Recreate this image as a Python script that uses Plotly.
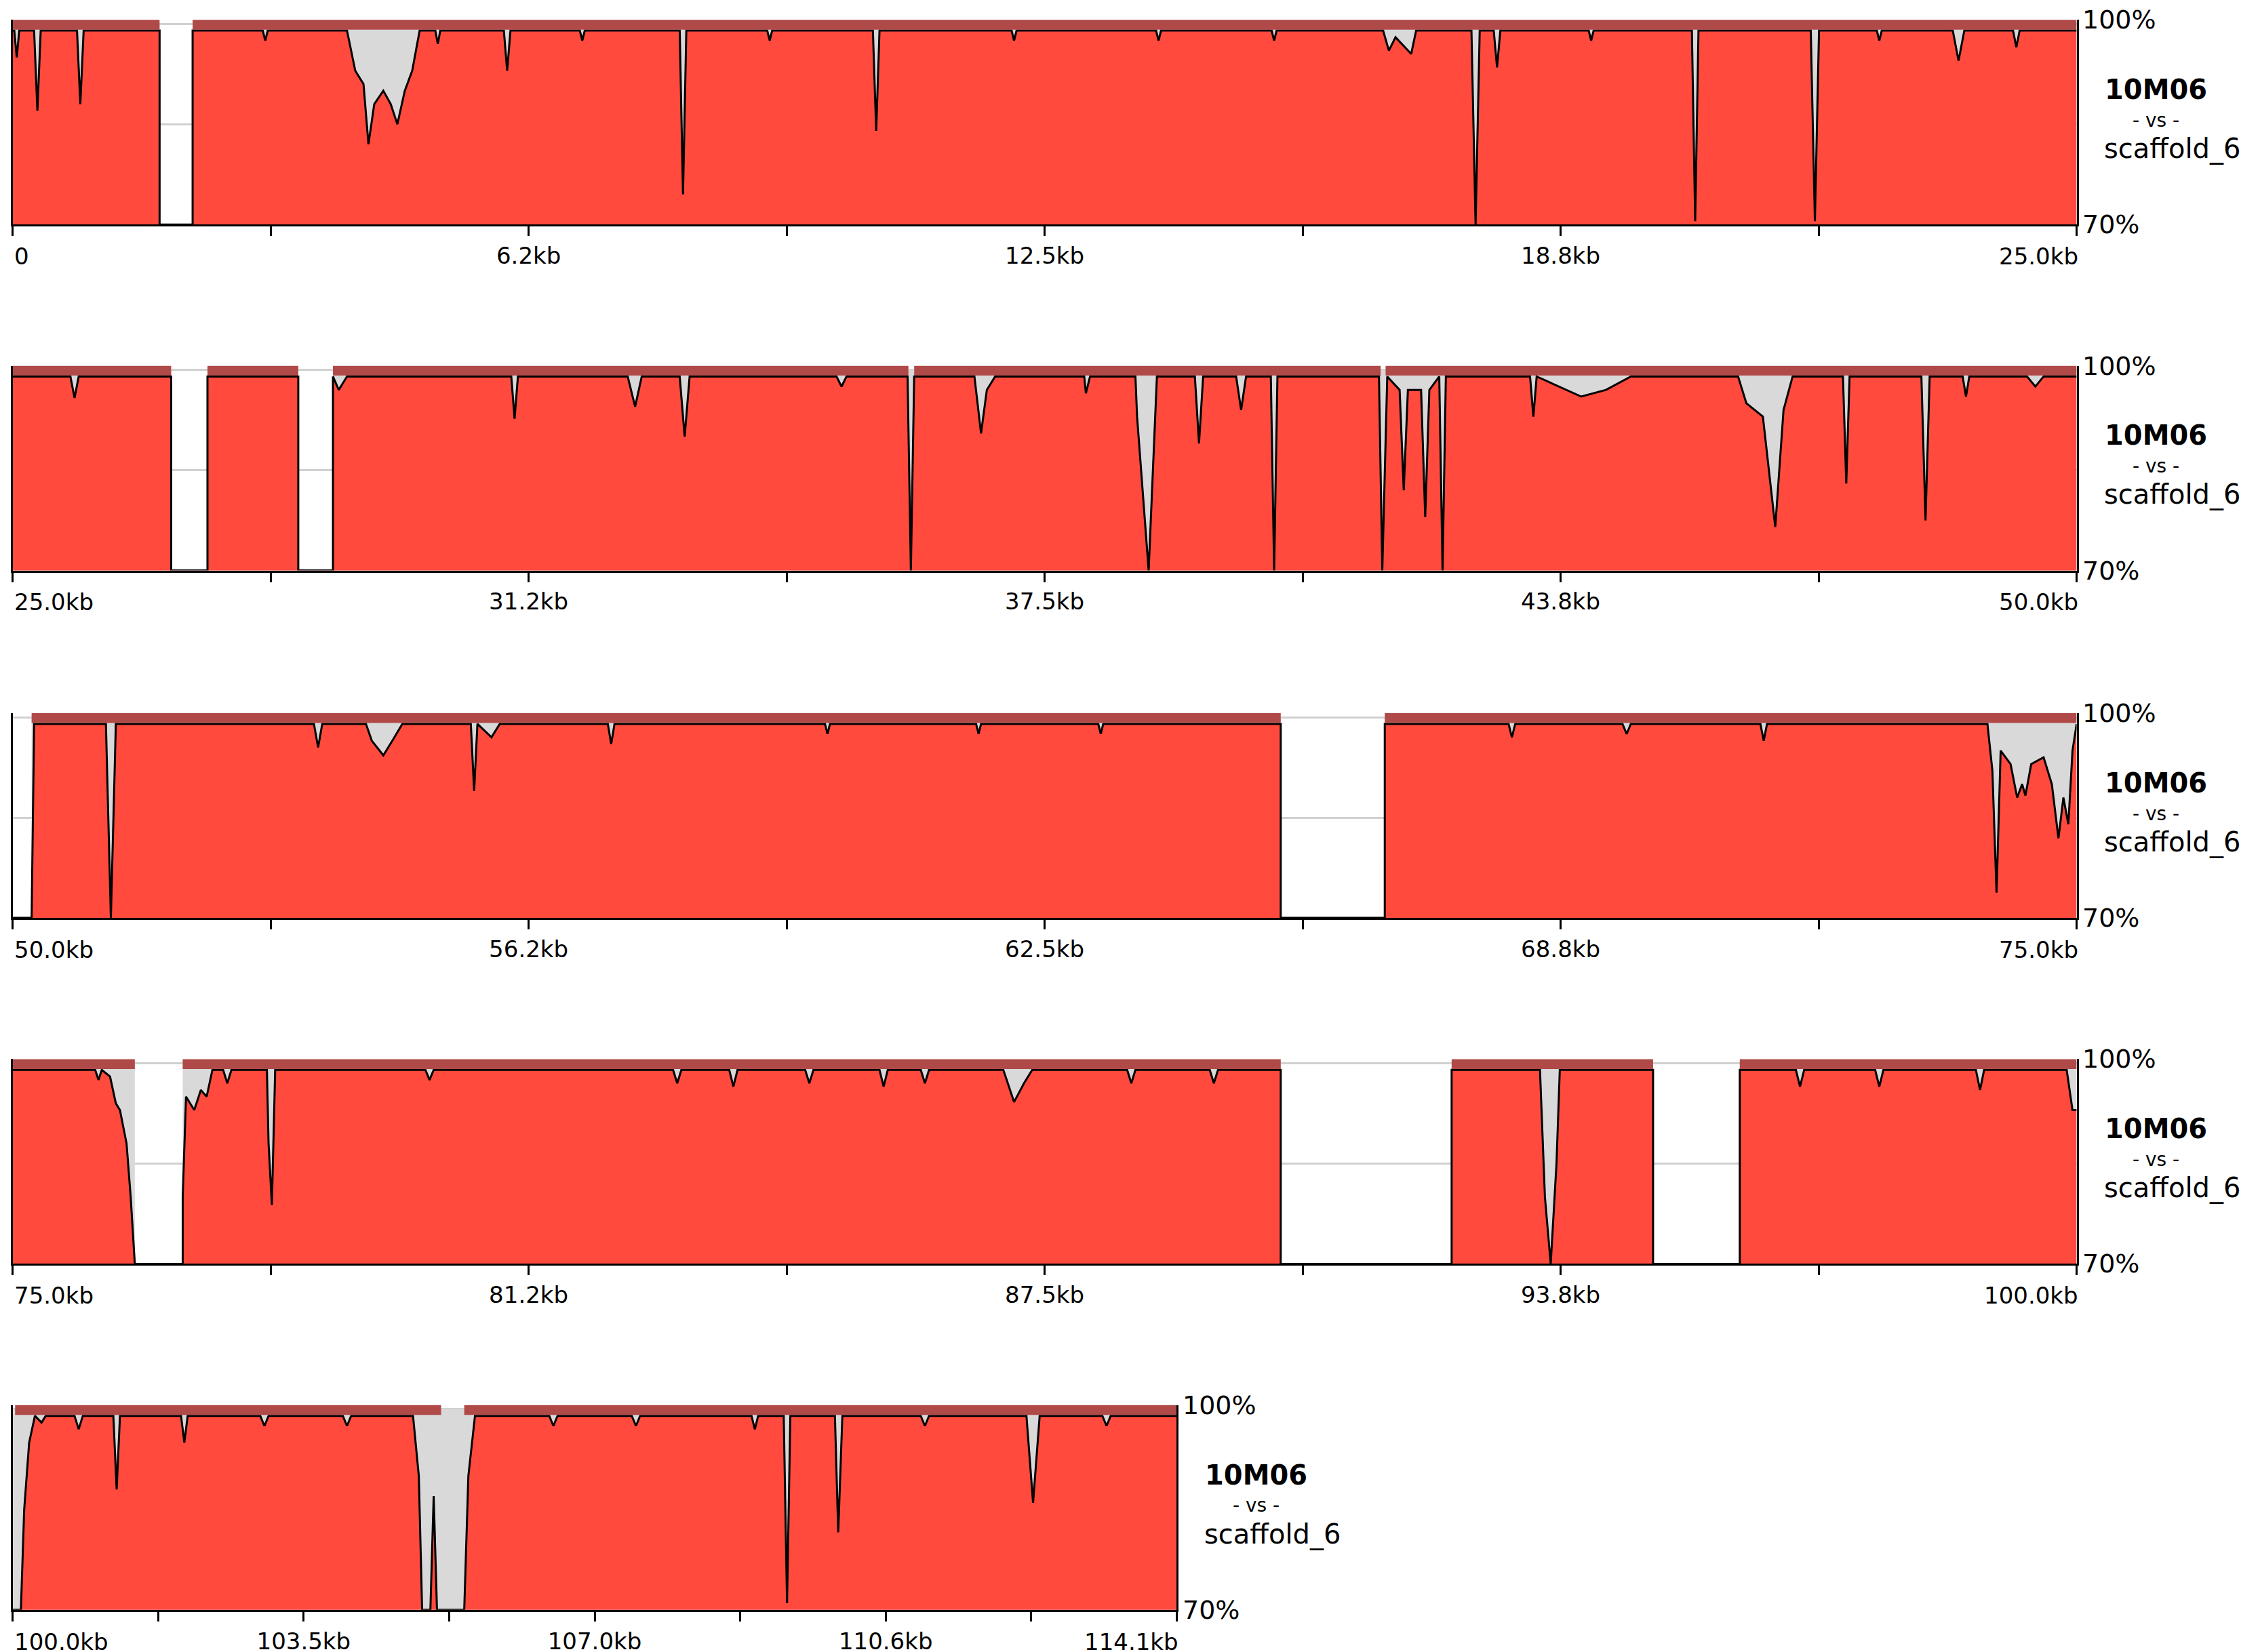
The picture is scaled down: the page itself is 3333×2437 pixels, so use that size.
import plotly.graph_objects as go

# ---------------- data ----------------
ROW_START = [0, 25, 50, 75, 100]
ROW_END = [25, 50, 75, 100, 114.1]

TICK_VALS = [
    [0, 6.25, 12.5, 18.75, 25],
    [25, 31.25, 37.5, 43.75, 50],
    [50, 56.25, 62.5, 68.75, 75],
    [75, 81.25, 87.5, 93.75, 100],
    [100, 103.525, 107.05, 110.575, 114.1],
]
TICK_TEXT = [
    ["0", "6.2kb", "12.5kb", "18.8kb", "25.0kb"],
    ["25.0kb", "31.2kb", "37.5kb", "43.8kb", "50.0kb"],
    ["50.0kb", "56.2kb", "62.5kb", "68.8kb", "75.0kb"],
    ["75.0kb", "81.2kb", "87.5kb", "93.8kb", "100.0kb"],
    ["100.0kb", "103.5kb", "107.0kb", "110.6kb", "114.1kb"],
]

# unaligned gaps (kb)
GAPS = [
    [(1.78, 2.18)],
    [(26.92, 27.36), (28.46, 28.88)],
    [(50.0, 50.23), (65.36, 66.62)],
    [(76.48, 77.06), (90.36, 92.43), (94.87, 95.92)],
    [],
]
# conserved-region bars along the top (kb)
CONSERVED = [
    [(0.0, 1.78), (2.18, 25.0)],
    [(25.0, 26.92), (27.36, 28.46), (28.88, 35.85), (35.92, 41.57), (41.63, 50.0)],
    [(50.23, 65.36), (66.62, 75.0)],
    [(75.0, 76.48), (77.06, 90.36), (92.43, 94.87), (95.92, 100.0)],
    [(100.03, 105.19), (105.47, 114.1)],
]

# conservation curve (kb, % identity)
CURVE = [
    [(0, 99), (0.02, 99), (0.05, 95), (0.08, 99), (0.26, 99), (0.30, 87), (0.34, 99), (0.78, 99), (0.82, 88),
     (0.86, 99), (1.78, 99), (1.78, 70), (2.18, 70), (2.18, 99), (3.03, 99), (3.06, 97.5), (3.09, 99),
     (4.05, 99), (4.15, 93), (4.25, 91), (4.31, 82), (4.38, 88), (4.49, 90), (4.58, 88), (4.66, 85),
     (4.75, 90), (4.84, 93), (4.93, 99), (5.12, 99), (5.15, 97), (5.18, 99), (5.95, 99), (5.99, 93),
     (6.03, 99), (6.87, 99), (6.9, 97.5), (6.93, 99), (8.08, 99), (8.12, 74.5), (8.16, 99), (9.14, 99),
     (9.17, 97.5), (9.2, 99), (10.42, 99), (10.46, 84), (10.5, 99), (12.1, 99), (12.13, 97.5), (12.16, 99),
     (13.85, 99), (13.88, 97.5), (13.91, 99), (15.25, 99), (15.28, 97.5), (15.31, 99), (16.6, 99),
     (16.67, 96), (16.75, 98), (16.94, 95.5), (17.0, 99), (17.67, 99), (17.72, 70), (17.77, 99),
     (17.94, 99), (17.98, 93.5), (18.02, 99), (19.09, 99), (19.12, 97.5), (19.15, 99), (20.34, 99),
     (20.38, 70.5), (20.42, 99), (21.78, 99), (21.83, 70.5), (21.88, 99), (22.58, 99), (22.61, 97.5),
     (22.64, 99), (23.5, 99), (23.57, 94.5), (23.64, 99), (24.23, 99), (24.27, 96.5), (24.31, 99), (25, 99)],
    [(25, 99), (25.7, 99), (25.75, 95.8), (25.8, 99), (26.92, 99), (26.92, 70), (27.36, 70), (27.36, 99),
     (28.46, 99), (28.46, 70), (28.88, 70), (28.88, 99), (28.95, 97), (29.05, 99), (31.04, 99),
     (31.08, 92.7), (31.12, 99), (32.45, 99), (32.54, 94.5), (32.62, 99), (33.08, 99), (33.14, 90),
     (33.2, 99), (34.98, 99), (35.04, 97.5), (35.1, 99), (35.84, 99), (35.88, 70), (35.92, 99),
     (36.65, 99), (36.73, 90.5), (36.8, 97), (36.9, 99), (37.98, 99), (38.0, 96.5), (38.05, 99),
     (38.6, 99), (38.62, 93), (38.76, 70), (38.86, 99), (39.32, 99), (39.37, 89), (39.42, 99),
     (39.82, 99), (39.88, 94), (39.94, 99), (40.24, 99), (40.28, 70), (40.32, 99), (41.55, 99),
     (41.59, 70), (41.65, 99), (41.8, 97), (41.85, 82), (41.9, 97), (42.06, 97), (42.11, 78),
     (42.16, 97), (42.28, 99), (42.32, 70), (42.36, 99), (43.38, 99), (43.42, 93), (43.46, 99),
     (44.0, 96), (44.3, 97), (44.6, 99), (45.9, 99), (46.0, 95), (46.2, 93), (46.35, 76.5), (46.45, 94),
     (46.56, 99), (47.17, 99), (47.21, 83), (47.25, 99), (48.12, 99), (48.17, 77.5), (48.22, 99),
     (48.62, 99), (48.66, 96), (48.7, 99), (49.4, 99), (49.5, 97.5), (49.6, 99), (50, 99)],
    [(50, 70), (50.23, 70), (50.26, 99), (51.13, 99), (51.19, 70), (51.25, 99), (53.65, 99), (53.7, 95.5),
     (53.75, 99), (54.28, 99), (54.35, 96.5), (54.49, 94.3), (54.6, 96.5), (54.72, 99), (55.55, 99),
     (55.59, 89), (55.63, 99), (55.8, 97), (55.9, 99), (57.21, 99), (57.25, 96), (57.29, 99), (59.84, 99),
     (59.87, 97.5), (59.9, 99), (61.67, 99), (61.7, 97.5), (61.73, 99), (63.15, 99), (63.18, 97.5),
     (63.21, 99), (65.36, 99), (65.36, 70), (66.62, 70), (66.62, 99), (68.12, 99), (68.16, 97),
     (68.2, 99), (69.5, 99), (69.55, 97.5), (69.6, 99), (71.17, 99), (71.21, 96.5), (71.25, 99),
     (73.92, 99), (73.98, 92), (74.03, 73.8), (74.08, 95), (74.2, 93), (74.28, 88), (74.34, 90),
     (74.38, 88.3), (74.45, 93), (74.6, 94), (74.7, 90), (74.78, 81.9), (74.84, 88), (74.9, 84),
     (74.95, 95), (75, 99)],
    [(75, 99), (76.0, 99), (76.04, 97.5), (76.08, 99), (76.18, 98), (76.25, 94), (76.3, 93), (76.38, 88),
     (76.43, 80), (76.48, 70), (77.06, 70), (77.06, 80), (77.1, 95), (77.2, 93), (77.28, 96), (77.35, 95),
     (77.42, 99), (77.55, 99), (77.6, 97), (77.65, 99), (78.08, 99), (78.1, 88), (78.14, 78.8),
     (78.18, 99), (80.0, 99), (80.05, 97.5), (80.1, 99), (83.0, 99), (83.05, 97), (83.1, 99), (83.68, 99),
     (83.73, 96.5), (83.78, 99), (84.6, 99), (84.65, 97), (84.7, 99), (85.5, 99), (85.55, 96.5),
     (85.6, 99), (86.0, 99), (86.05, 97), (86.1, 99), (87.0, 99), (87.13, 94.2), (87.25, 97), (87.35, 99),
     (88.5, 99), (88.55, 97), (88.6, 99), (89.5, 99), (89.55, 97), (89.6, 99), (90.36, 99), (90.36, 70),
     (92.43, 70), (92.43, 99), (93.5, 99), (93.56, 80), (93.63, 70), (93.7, 85), (93.74, 99),
     (94.87, 99), (94.87, 70), (95.92, 70), (95.92, 99), (96.6, 99), (96.65, 96.5), (96.7, 99),
     (97.56, 99), (97.61, 96.5), (97.66, 99), (98.78, 99), (98.83, 96), (98.88, 99), (99.88, 99),
     (99.95, 93), (100, 93)],
    [(100, 70), (100.1, 70), (100.14, 85), (100.2, 95), (100.27, 99), (100.35, 98), (100.4, 99),
     (100.75, 99), (100.8, 97), (100.85, 99), (101.22, 99), (101.26, 88), (101.3, 99), (102.04, 99),
     (102.08, 95), (102.12, 99), (103.0, 99), (103.05, 97.5), (103.1, 99), (104.0, 99), (104.05, 97.5),
     (104.1, 99), (104.85, 99), (104.92, 90), (104.96, 70), (105.06, 70), (105.1, 87), (105.14, 70),
     (105.47, 70), (105.52, 90), (105.6, 99), (106.5, 99), (106.55, 97.5), (106.6, 99), (107.5, 99),
     (107.55, 97.5), (107.6, 99), (108.95, 99), (108.99, 97), (109.03, 99), (109.34, 99), (109.38, 71),
     (109.42, 99), (109.96, 99), (110.0, 81.6), (110.05, 99), (111.0, 99), (111.05, 97.5), (111.1, 99),
     (112.28, 99), (112.36, 86), (112.44, 99), (113.2, 99), (113.25, 97.5), (113.3, 99), (114.1, 99)],
]

LABEL_TOP = "100%"
LABEL_BOTTOM = "70%"
SEQ_NAMES = ["10M06", "- vs -", "scaffold_6"]

# ---------------- layout constants ----------------
W, H = 3333, 2437
RED = "#ff4a3d"
DARKRED = "#b04a48"
GRAY = "#d9d9d9"
FONT = "DejaVu Sans"

X0 = 5 / 1568
X1_FULL = 1437 / 1568
ROWS_Y = [(10, 152), (250, 392), (491, 633), (731, 873), (971, 1113)]

fig = go.Figure()
layout = dict(width=W, height=H, margin=dict(l=0, r=0, t=0, b=0, autoexpand=False),
              paper_bgcolor="white", plot_bgcolor="white", showlegend=False,
              annotations=[])

for i in range(5):
    n = i + 1
    xa = "x" if n == 1 else f"x{n}"
    ya = "y" if n == 1 else f"y{n}"
    s, e = ROW_START[i], ROW_END[i]
    x1 = X0 + (X1_FULL - X0) * (e - s) / 25.0
    ytop, ybot = ROWS_Y[i]
    d0, d1 = 1 - ybot / 1146, 1 - ytop / 1146

    segs, cur = [], s
    for g0, g1 in GAPS[i]:
        if g0 > cur:
            segs.append((cur, g0))
        cur = max(cur, g1)
    if cur < e:
        segs.append((cur, e))
    for a, b in segs:
        fig.add_trace(go.Scatter(x=[a, b], y=[100, 100], mode="lines", line=dict(width=0),
                                 fill="tozeroy", fillcolor=GRAY, xaxis=xa, yaxis=ya, hoverinfo="skip"))

    xs = [p[0] for p in CURVE[i]]
    ys = [p[1] for p in CURVE[i]]
    fig.add_trace(go.Scatter(x=xs, y=ys, mode="lines", line=dict(color="black", width=3),
                             fill="tozeroy", fillcolor=RED, xaxis=xa, yaxis=ya, hoverinfo="skip"))

    for a, b in CONSERVED[i]:
        fig.add_trace(go.Scatter(x=[a, b], y=[99.9, 99.9], mode="lines",
                                 line=dict(color=DARKRED, width=15), xaxis=xa, yaxis=ya,
                                 hoverinfo="skip", cliponaxis=False))

    tv = TICK_VALS[i]
    minor = [(tv[k] + tv[k + 1]) / 2 for k in range(len(tv) - 1)]
    inner_text = [""] + TICK_TEXT[i][1:-1] + [""]
    key_x = "xaxis" if n == 1 else f"xaxis{n}"
    key_y = "yaxis" if n == 1 else f"yaxis{n}"
    layout[key_x] = dict(domain=[X0, x1], range=[s, e], anchor=ya, showgrid=False, zeroline=False,
                         showline=True, linecolor="black", linewidth=3, automargin=False,
                         tickmode="array", tickvals=tv + minor, ticktext=inner_text + [""] * len(minor),
                         ticks="outside", ticklen=14, tickwidth=3, tickcolor="black",
                         tickfont=dict(family=FONT, size=34, color="black"))
    layout[key_y] = dict(domain=[d0, d1], range=[70, 100.6], anchor=xa, showgrid=True,
                         gridcolor="#d0d0d0", gridwidth=3, tickmode="array", tickvals=[85, 100],
                         showticklabels=False, zeroline=False, showline=True, linecolor="black",
                         linewidth=3, mirror=True, automargin=False)

    xr = x1 + 3 / 1568
    ylab = d0 - 22 / 1146
    layout["annotations"] += [
        dict(text=TICK_TEXT[i][0], x=X0, y=ylab, xref="paper", yref="paper", xanchor="left",
             yanchor="middle", showarrow=False, font=dict(family=FONT, size=34, color="black")),
        dict(text=TICK_TEXT[i][-1], x=x1 + 2 / 1568, y=ylab, xref="paper", yref="paper", xanchor="right",
             yanchor="middle", showarrow=False, font=dict(family=FONT, size=34, color="black")),
        dict(text=LABEL_TOP, x=xr, y=d1, xref="paper", yref="paper", xanchor="left", yanchor="middle",
             showarrow=False, font=dict(family=FONT, size=38, color="black")),
        dict(text=LABEL_BOTTOM, x=xr, y=d0, xref="paper", yref="paper", xanchor="left", yanchor="middle",
             showarrow=False, font=dict(family=FONT, size=38, color="black")),
        dict(text="<b>" + SEQ_NAMES[0] + "</b>", x=x1 + 55 / 1568, y=d0 + (d1 - d0) * 0.66,
             xref="paper", yref="paper", xanchor="center", yanchor="middle", showarrow=False,
             font=dict(family=FONT, size=40, color="black")),
        dict(text=SEQ_NAMES[1], x=x1 + 55 / 1568, y=d0 + (d1 - d0) * 0.51,
             xref="paper", yref="paper", xanchor="center", yanchor="middle", showarrow=False,
             font=dict(family=FONT, size=28, color="black")),
        dict(text=SEQ_NAMES[2], x=x1 + 18 / 1568, y=d0 + (d1 - d0) * 0.37,
             xref="paper", yref="paper", xanchor="left", yanchor="middle", showarrow=False,
             font=dict(family=FONT, size=40, color="black")),
    ]

fig.update_layout(**layout)
fig.write_html("out.html")
